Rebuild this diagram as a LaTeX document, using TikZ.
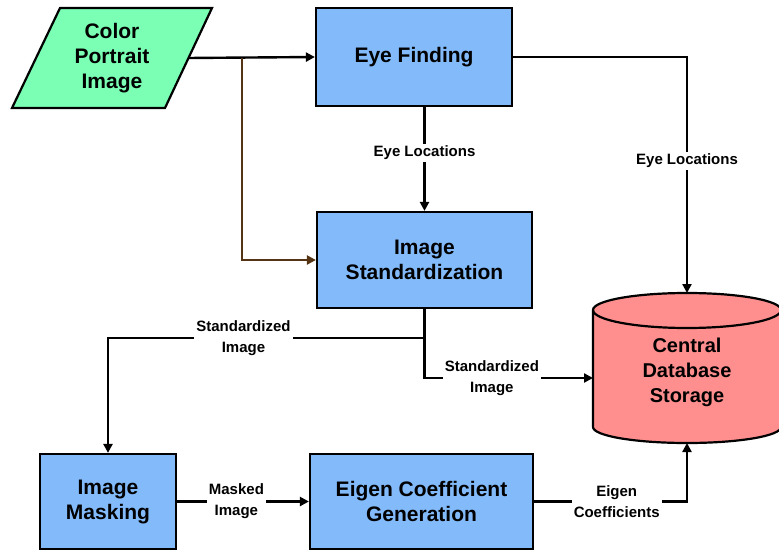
\documentclass[tikz,border=0pt]{standalone}
\usepackage{fontspec}
\setmainfont{Liberation Sans}
\usepackage{tikz}
\usetikzlibrary{calc,arrows.meta}

\definecolor{portraitgreen}{RGB}{122,255,180}
\definecolor{stepblue}{RGB}{130,186,250}
\definecolor{storered}{RGB}{255,143,143}
\definecolor{branchbrown}{RGB}{84,52,20}

\tikzset{
	procbox/.style={draw=black, line width=2.2pt, fill=stepblue, align=center,
		font=\fontsize{21}{25}\selectfont\bfseries, inner sep=0pt},
	flow/.style={line width=2.4pt, -{Triangle[length=9pt,width=9pt]}},
	flowlabel/.style={fill=white, align=center, inner sep=2pt,
		font=\fontsize{15}{21}\selectfont\bfseries}
}

\begin{document}
\begin{tikzpicture}[x=1pt, y=-1pt]
			%%%%% START %%%%%
			\useasboundingbox (0, 0) rectangle (779, 551);
			
			\draw[line width=2.2pt, fill=portraitgreen] (60, 8) -- (212, 8) -- (165, 108) -- (12, 108) -- cycle;
			\node[align=center, font=\fontsize{21}{25}\selectfont\bfseries] (portrait) at (112, 58) {Color\\Portrait\\Image};
			\coordinate (portraitout) at (188, 58);
			\coordinate (split) at (242, 58);
			
			\node[procbox, minimum width=196, minimum height=98] (eye) at (414, 57) {Eye Finding};
			\node[procbox, minimum width=215, minimum height=96] (std) at (424.5, 260) {Image\\Standardization};
			\node[procbox, minimum width=136, minimum height=95] (mask) at (108, 501.5) {Image\\Masking};
			\node[procbox, minimum width=223, minimum height=95] (eigen) at (421.5, 501.5) {Eigen Coefficient\\Generation};
			
			% database cylinder
			\draw[line width=2.2pt, fill=storered] (593, 310) -- (593, 427)
				arc[start angle=180, end angle=0, x radius=94, y radius=16] -- (781, 310)
				arc[start angle=0, end angle=-180, x radius=94, y radius=17] -- cycle;
			\draw[line width=2.2pt] (593, 310) arc[start angle=180, end angle=0, x radius=94, y radius=18];
			\node[align=center, font=\fontsize{20}{25}\selectfont\bfseries, minimum width=188, minimum height=150] (db) at (687, 368) {\\[-2pt]Central\\Database\\Storage};
			\coordinate (dbtop) at (687, 293);
			\coordinate (dbbottom) at (687, 443);
			\coordinate (dbin) at (593, 378);
			
			\draw[flow] (portraitout) -- (eye.west);
			\draw[flow, color=branchbrown] (split) |- (std.west);
			
			\draw[flow] (std.north |- eye.south) -- node[flowlabel, pos=0.44] {Eye Locations} (std.north);
			\draw[flow] (eye.east) -| node[flowlabel, pos=0.72] {Eye Locations} (dbtop);
			
			\coordinate (junction) at (std.south |- 0, 338);
			\draw[flow] (std.south) |- node[flowlabel, pos=0.70] {Standardized\\Image} (dbin);
			\draw[flow] (junction) -| node[flowlabel, pos=0.286] {Standardized\\Image} (mask.north);
			
			\draw[flow] (mask.east) -- node[flowlabel, pos=0.45] {Masked\\Image} (eigen.west);
			\draw[flow] (eigen.east) -| node[flowlabel, pos=0.27] {Eigen\\Coefficients} (dbbottom);
			%%%%% END %%%%%
\end{tikzpicture}
\end{document}
